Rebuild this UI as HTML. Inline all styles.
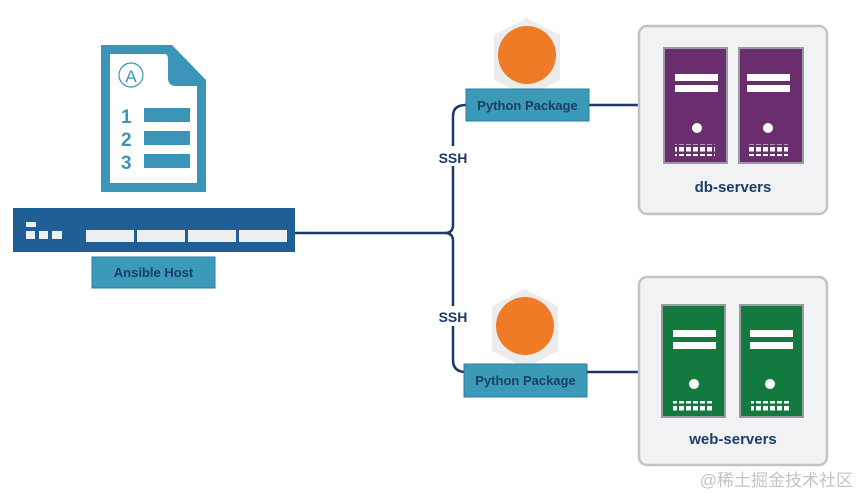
<!DOCTYPE html>
<html><head><meta charset="utf-8"><style>
body{margin:0;background:#fff;}
svg{display:block;font-family:"Liberation Sans",sans-serif;}
</style></head><body>
<svg width="860" height="496" viewBox="0 0 860 496" xmlns="http://www.w3.org/2000/svg">
<defs>
<pattern id="g" x="0" y="0" width="7" height="7" patternUnits="userSpaceOnUse"><rect x="0" y="0" width="5" height="4.5" fill="#fff"/></pattern>
</defs>
<!-- document -->
<path d="M101 45 H172 L206 80 V192 H101 Z" fill="#3a95b8"/>
<path d="M110 54 H165 Q168 54 168 60 V78 Q168 86 176 86 H197 V183 H110 Z" fill="#fff"/>
<circle cx="131" cy="75" r="12" fill="none" stroke="#3a95b8" stroke-width="1.2"/>
<text x="131" y="82" font-size="17" fill="#3a95b8" text-anchor="middle">A</text>
<g fill="#3a95b8" font-size="19" font-weight="bold">
<text x="121" y="123">1</text><text x="121" y="146">2</text><text x="121" y="169">3</text>
</g>
<rect x="144" y="108" width="46" height="14" fill="#3a95b8"/>
<rect x="144" y="131" width="46" height="14" fill="#3a95b8"/>
<rect x="144" y="154" width="46" height="14" fill="#3a95b8"/>
<!-- host bar -->
<rect x="13" y="208" width="282" height="44" fill="#1f5f95"/>
<rect x="26" y="222" width="10" height="5" fill="#eee"/>
<rect x="26" y="231" width="9" height="8" fill="#eee"/>
<rect x="39" y="231" width="9" height="8" fill="#eee"/>
<rect x="52" y="231" width="10" height="8" fill="#eee"/>
<rect x="86" y="230" width="48" height="12" fill="#eee"/>
<rect x="137" y="230" width="48" height="12" fill="#eee"/>
<rect x="188" y="230" width="48" height="12" fill="#eee"/>
<rect x="239" y="230" width="48" height="12" fill="#eee"/>
<rect x="92" y="257" width="123" height="31" fill="#3a9ab8" stroke="#2b7f9a" stroke-width="1"/>
<text x="153.5" y="277" font-size="13" font-weight="bold" fill="#1c3e66" text-anchor="middle">Ansible Host</text>
<!-- connectors -->
<g fill="none" stroke="#1c3866" stroke-width="2.5">
<path d="M295 233 H445 Q453 233 453 225 V116 Q453 105 466 105"/>
<path d="M445 233 Q453 233 453 241 V360 Q453 372 466 372"/>
<path d="M589 105 H638"/>
<path d="M587 372 H638"/>
</g>
<rect x="436" y="146" width="34" height="20" fill="#fff"/>
<rect x="436" y="306" width="34" height="20" fill="#fff"/>
<text x="453" y="163" font-size="14" font-weight="bold" fill="#1c3866" text-anchor="middle">SSH</text>
<text x="453" y="322" font-size="14" font-weight="bold" fill="#1c3866" text-anchor="middle">SSH</text>
<!-- python packages -->
<polygon points="527,18 560,35 560,80 527,97 494,80 494,35" fill="#ececec"/>
<circle cx="527" cy="55" r="29" fill="#ef7b26"/>
<rect x="466" y="89" width="123" height="32" fill="#3a9ab8" stroke="#2b7f9a"/>
<text x="527.5" y="110" font-size="13" font-weight="bold" fill="#1c3e66" text-anchor="middle">Python Package</text>
<polygon points="525,289 558,306 558,351 525,368 492,351 492,306" fill="#ececec"/>
<circle cx="525" cy="326" r="29" fill="#ef7b26"/>
<rect x="464" y="364" width="123" height="33" fill="#3a9ab8" stroke="#2b7f9a"/>
<text x="525.5" y="385" font-size="13" font-weight="bold" fill="#1c3e66" text-anchor="middle">Python Package</text>
<!-- db servers -->
<rect x="639" y="26" width="188" height="188" rx="8" fill="#f1f2f4" stroke="#c2c3c6" stroke-width="2.5"/>
<rect x="664" y="48" width="63" height="115" fill="#6a2d6e" stroke="#9a9aa0" stroke-width="2"/>
<rect x="739" y="48" width="64" height="115" fill="#6a2d6e" stroke="#9a9aa0" stroke-width="2"/>
<rect x="675" y="74" width="43" height="7" fill="#fff"/><rect x="675" y="85" width="43" height="7" fill="#fff"/>
<rect x="747" y="74" width="43" height="7" fill="#fff"/><rect x="747" y="85" width="43" height="7" fill="#fff"/>
<circle cx="697" cy="128" r="5" fill="#fff"/><circle cx="768" cy="128" r="5" fill="#fff"/>
<rect x="675" y="144" width="40" height="12" fill="url(#g)"/>
<rect x="748" y="144" width="40" height="12" fill="url(#g)"/>
<text x="733" y="192" font-size="15" font-weight="bold" fill="#1c3e66" text-anchor="middle">db-servers</text>
<!-- web servers -->
<rect x="639" y="277" width="188" height="188" rx="8" fill="#f1f2f4" stroke="#c2c3c6" stroke-width="2.5"/>
<rect x="662" y="305" width="63" height="112" fill="#127a3e" stroke="#9a9aa0" stroke-width="2"/>
<rect x="740" y="305" width="63" height="112" fill="#127a3e" stroke="#9a9aa0" stroke-width="2"/>
<rect x="673" y="330" width="43" height="7" fill="#fff"/><rect x="673" y="342" width="43" height="7" fill="#fff"/>
<rect x="750" y="330" width="43" height="7" fill="#fff"/><rect x="750" y="342" width="43" height="7" fill="#fff"/>
<circle cx="694" cy="384" r="5" fill="#fff"/><circle cx="770" cy="384" r="5" fill="#fff"/>
<rect x="673" y="401" width="40" height="12" fill="url(#g)"/>
<rect x="751" y="401" width="40" height="12" fill="url(#g)"/>
<text x="733" y="444" font-size="15" font-weight="bold" fill="#1c3e66" text-anchor="middle">web-servers</text>
<text x="853" y="486" font-size="17" fill="#c4c4c4" text-anchor="end" font-family="'Liberation Sans','Noto Sans CJK SC',sans-serif">@稀土掘金技术社区</text>
</svg>
</body></html>
